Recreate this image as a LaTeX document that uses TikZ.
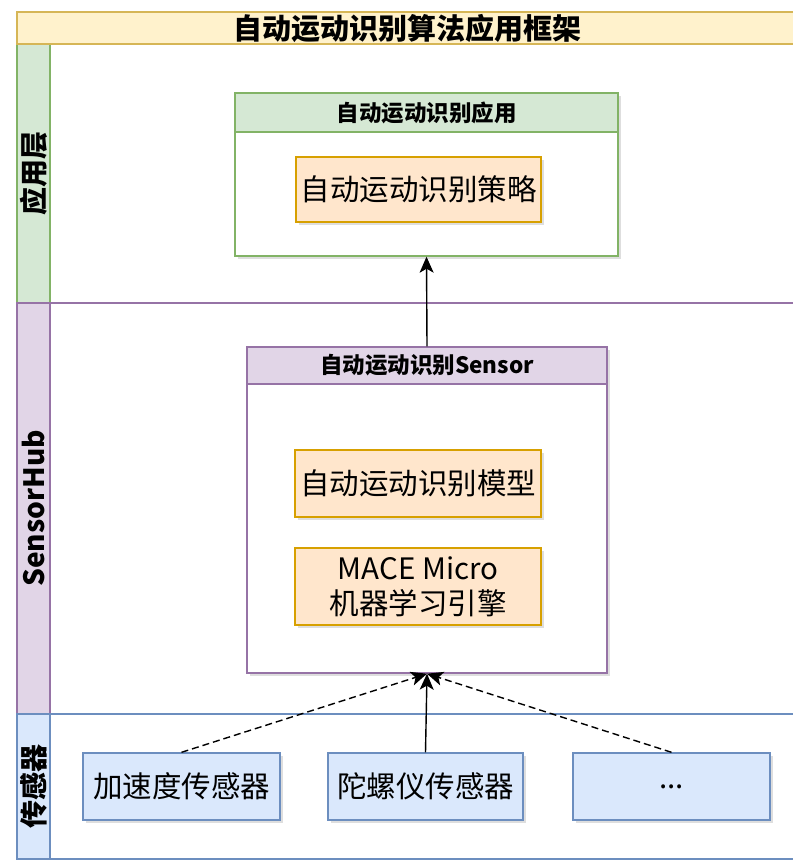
\documentclass[tikz,border=0pt]{standalone}
\usepackage{fontspec}
\setmainfont{Noto Sans CJK SC}
\usetikzlibrary{arrows.meta,shadows}
\definecolor{ylwF}{HTML}{FFF2CC}\definecolor{ylwD}{HTML}{D6B656}
\definecolor{grnF}{HTML}{D5E8D4}\definecolor{grnD}{HTML}{82B366}
\definecolor{purF}{HTML}{E1D5E7}\definecolor{purD}{HTML}{9673A6}
\definecolor{bluF}{HTML}{DAE8FC}\definecolor{bluD}{HTML}{6C8EBF}
\definecolor{orgF}{HTML}{FFE6CC}\definecolor{orgD}{HTML}{D7A000}
\tikzset{
  shd/.style={drop shadow={shadow xshift=3pt,shadow yshift=-3pt,opacity=0.18,fill=black!70}},
  lanebox/.style={line width=1.4pt},
  innerbox/.style={rectangle,line width=1.4pt,shd,inner sep=2pt,align=center,font=\fontsize{29.5}{35}\selectfont},
  orgbox/.style={innerbox,fill=orgF,draw=orgD},
  blubox/.style={innerbox,fill=bluF,draw=bluD},
  hdr/.style={rectangle,line width=1.4pt,inner sep=0pt,font=\bfseries\fontsize{22.5}{26}\selectfont},
  lanelbl/.style={rotate=90,font=\bfseries\fontsize{28}{32}\selectfont,inner sep=0pt},
  conn/.style={line width=1.4pt,-{Stealth[length=16pt,width=14pt,inset=4pt]}},
  dconn/.style={conn,dash pattern=on 7pt off 4pt}
}
\begin{document}
\begin{tikzpicture}[x=1pt,y=-1pt]
\useasboundingbox (0,0) rectangle (792,861);
\fill[white] (0,0) rectangle (792,861);
% lanes
\draw[lanebox,draw=grnD,fill=white] (17,44) rectangle (797,303);
\draw[lanebox,draw=grnD,fill=grnF] (17,44) rectangle (50,303);
\draw[lanebox,draw=purD,fill=white] (17,303) rectangle (797,714);
\draw[lanebox,draw=purD,fill=purF] (17,303) rectangle (50,714);
\draw[lanebox,draw=bluD,fill=white] (17,714) rectangle (797,859);
\draw[lanebox,draw=bluD,fill=bluF] (17,714) rectangle (50,859);
% title band
\draw[lanebox,draw=ylwD,fill=ylwF] (17,12) rectangle (797,44);
\node[font=\bfseries\fontsize{29}{32}\selectfont,inner sep=0pt] (title) at (407,28) {自动运动识别算法应用框架};
\node[lanelbl] (l1) at (33.5,173.5) {应用层};
\node[lanelbl] (l2) at (33.5,508.5) {SensorHub};
\node[lanelbl] (l3) at (33.5,786.5) {传感器};
% application container
\node[rectangle,draw=grnD,fill=white,line width=1.4pt,shd,minimum width=383pt,minimum height=163pt] (app) at (426.5,174.5) {};
\node[hdr,draw=grnD,fill=grnF,minimum width=383pt,minimum height=39pt] (apphdr) at (426.5,112.5) {自动运动识别应用};
\node[orgbox,minimum width=245pt,minimum height=65pt] (strat) at (418.5,189.5) {自动运动识别策略};
% sensor container
\node[rectangle,draw=purD,fill=white,line width=1.4pt,shd,minimum width=360pt,minimum height=326pt] (sens) at (427,510) {};
\node[hdr,draw=purD,fill=purF,minimum width=360pt,minimum height=37pt] (senshdr) at (427,365.5) {自动运动识别Sensor};
\node[orgbox,minimum width=246pt,minimum height=67pt] (model) at (418,483.5) {自动运动识别模型};
\node[orgbox,minimum width=246pt,minimum height=77pt] (mace) at (418,586.5) {MACE Micro\\机器学习引擎};
% sensors
\node[blubox,minimum width=197pt,minimum height=67pt] (acc) at (181.5,786.5) {加速度传感器};
\node[blubox,minimum width=195pt,minimum height=67pt] (gyro) at (425.5,786.5) {陀螺仪传感器};
\node[blubox,minimum width=197pt,minimum height=67pt] (more) at (671.5,786.5) {...};
% connectors
\draw[conn] (senshdr.north) -- (app.south);
\draw[dconn] (acc.north) -- (sens.south);
\draw[conn] (gyro.north) -- (sens.south);
\draw[dconn] (more.north) -- (sens.south);
\end{tikzpicture}
\end{document}
